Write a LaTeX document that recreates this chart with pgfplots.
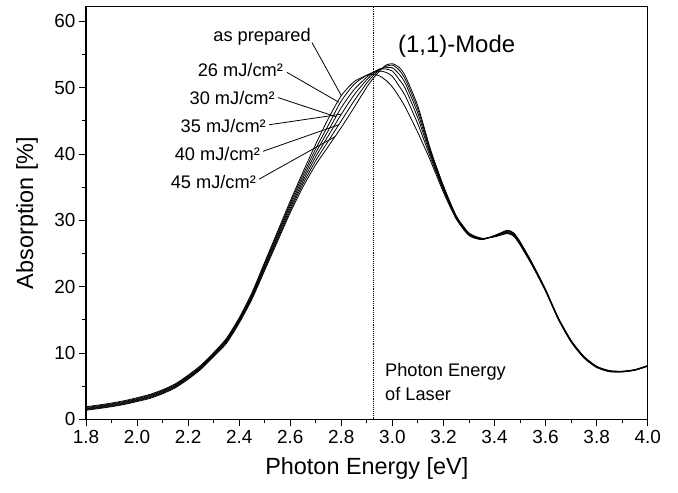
\documentclass[border=0pt]{standalone}
\usepackage{fontspec}
\setmainfont{Liberation Sans}
\usepackage{pgfplots}
\pgfplotsset{compat=1.18}
\usepackage{pgfplotstable}

\pgfplotstableread{
E      k0    k1    k2    k3    k4    k5
1.80  1.90  1.78  1.66  1.56  1.46  1.36
1.85  2.15  2.03  1.92  1.82  1.72  1.62
1.90  2.45  2.33  2.22  2.11  2.00  1.90
1.95  2.80  2.68  2.56  2.45  2.34  2.24
2.00  3.25  3.13  3.01  2.90  2.79  2.68
2.05  3.75  3.63  3.51  3.39  3.27  3.15
2.10  4.45  4.33  4.21  4.09  3.97  3.85
2.15  5.35  5.23  5.11  4.99  4.87  4.75
2.20  6.65  6.52  6.40  6.28  6.16  6.04
2.25  8.15  8.02  7.90  7.78  7.66  7.54
2.30 10.05  9.92  9.80  9.68  9.56  9.44
2.35 12.20 12.05 11.90 11.75 11.60 11.45
2.40 15.30 15.15 15.00 14.85 14.70 14.50
2.45 19.10 18.90 18.70 18.50 18.30 18.10
2.50 23.70 23.45 23.20 22.95 22.70 22.45
2.55 28.30 28.00 27.70 27.40 27.10 26.80
2.60 32.90 32.55 32.20 31.85 31.50 31.15
2.65 37.30 36.85 36.40 35.95 35.50 35.05
2.70 41.50 40.80 40.20 39.60 39.00 38.40
2.75 45.40 44.40 43.60 42.80 42.00 41.20
2.80 48.80 48.00 47.00 46.00 45.00 44.00
2.85 50.90 50.50 49.70 48.90 48.00 47.00
2.90 51.85 51.90 51.60 51.20 50.70 50.10
2.925 52.00 52.30 52.30 52.10 51.80 51.40
2.95 51.75 52.50 52.80 52.80 52.70 52.50
2.975 51.10 52.30 52.80 53.00 53.20 53.40
3.00 50.10 51.70 52.50 53.00 53.40 53.60
3.025 48.70 50.30 51.30 52.10 52.70 53.10
3.05 47.10 48.80 49.90 50.70 51.30 51.80
3.10 43.20 44.50 45.40 46.10 46.70 47.20
3.15 38.90 39.40 39.80 40.10 40.40 40.60
3.20 34.20 34.50 34.70 34.90 35.10 35.20
3.25 30.20 30.30 30.40 30.50 30.60 30.70
3.30 27.70 27.80 27.85 27.90 28.00 28.10
3.35 27.10 27.10 27.15 27.20 27.25 27.30
3.40 27.70 27.70 27.65 27.60 27.55 27.50
3.45 28.50 28.40 28.30 28.20 28.10 28.00
3.475 28.10 28.00 27.90 27.80 27.70 27.60
3.50 26.80 26.70 26.60 26.50 26.40 26.30
3.55 23.40 23.30 23.25 23.20 23.10 23.00
3.60 19.60 19.50 19.45 19.40 19.35 19.30
3.65 15.30 15.25 15.20 15.15 15.10 15.05
3.70 11.90 11.85 11.80 11.75 11.70 11.65
3.75  9.50  9.45  9.40  9.35  9.30  9.25
3.80  8.00  7.95  7.90  7.88  7.85  7.80
3.85  7.35  7.30  7.27  7.24  7.21  7.18
3.90  7.25  7.22  7.20  7.18  7.16  7.14
3.95  7.50  7.47  7.45  7.43  7.41  7.39
4.00  8.10  8.08  8.06  8.04  8.02  8.00
}\spectra

\newcommand{\tickfont}{\fontsize{19}{22}\selectfont}
\newcommand{\labfont}{\fontsize{23.5}{27}\selectfont}
\newcommand{\annfont}{\fontsize{18.3}{21}\selectfont}

\begin{document}
\begin{tikzpicture}
\begin{axis}[
  scale only axis, width=561.7bp, height=412.6bp,
  xmin=1.8, xmax=4.0, ymin=0, ymax=62.2,
  xtick={1.8,2.0,2.2,2.4,2.6,2.8,3.0,3.2,3.4,3.6,3.8,4.0},
  ytick={0,10,20,30,40,50,60},
  minor x tick num=1, minor y tick num=1,
  tick align=outside, xtick pos=bottom, ytick pos=left,
  major tick length=7bp, minor tick length=4bp,
  every tick/.style={black, line width=0.9bp},
  axis line style={line width=1.1bp},
  /pgf/number format/assume math mode=true,
  xticklabel style={/pgf/number format/.cd, fixed, fixed zerofill, precision=1},
  tick label style={font=\tickfont, text=black},
  label style={font=\labfont},
  xlabel={Photon Energy [eV]},
  ylabel={Absorption [\%]},
  xlabel style={at={(axis description cs:0.5,-0.118)}, anchor=center},
  ylabel style={at={(axis description cs:-0.105,0.5)}, anchor=center, rotate=0},
  clip=false,
]
\addplot[black, line width=0.8bp, smooth, tension=0.4] table[x=E, y=k5] {\spectra};
\addplot[black, line width=0.8bp, smooth, tension=0.4] table[x=E, y=k4] {\spectra};
\addplot[black, line width=0.8bp, smooth, tension=0.4] table[x=E, y=k3] {\spectra};
\addplot[black, line width=0.8bp, smooth, tension=0.4] table[x=E, y=k2] {\spectra};
\addplot[black, line width=0.8bp, smooth, tension=0.4] table[x=E, y=k1] {\spectra};
\addplot[black, line width=0.8bp, smooth, tension=0.4] table[x=E, y=k0] {\spectra};

\draw[black, line width=0.9bp, densely dotted] (axis cs:2.925,0) -- (axis cs:2.925,62.2);

\node[anchor=east, font=\annfont, inner sep=0pt] at (axis cs:2.681,57.6) {as prepared};
\draw[line width=0.8bp] (axis cs:2.685,56.8) -- (axis cs:2.80,48.8);
\node[anchor=east, font=\annfont, inner sep=0pt] at (axis cs:2.572,52.6) {26 mJ/cm²};
\draw[line width=0.8bp] (axis cs:2.587,52.3) -- (axis cs:2.79,47.8);
\node[anchor=east, font=\annfont, inner sep=0pt] at (axis cs:2.540,48.4) {30 mJ/cm²};
\draw[line width=0.8bp] (axis cs:2.552,48.5) -- (axis cs:2.78,45.6);
\node[anchor=east, font=\annfont, inner sep=0pt] at (axis cs:2.505,44.2) {35 mJ/cm²};
\draw[line width=0.8bp] (axis cs:2.517,44.4) -- (axis cs:2.80,46.0);
\node[anchor=east, font=\annfont, inner sep=0pt] at (axis cs:2.482,40.0) {40 mJ/cm²};
\draw[line width=0.8bp] (axis cs:2.493,40.4) -- (axis cs:2.79,44.4);
\node[anchor=east, font=\annfont, inner sep=0pt] at (axis cs:2.466,35.7) {45 mJ/cm²};
\draw[line width=0.8bp] (axis cs:2.478,36.2) -- (axis cs:2.775,42.6);

\node[anchor=base west, font=\fontsize{24}{28}\selectfont, inner sep=0pt] at (axis cs:3.022,55.36) {(1,1)-Mode};
\node[anchor=base west, font=\annfont, inner sep=0pt] at (axis cs:2.971,6.42) {Photon Energy};
\node[anchor=base west, font=\annfont, inner sep=0pt] at (axis cs:2.971,2.76) {of Laser};
\end{axis}
\pgfresetboundingbox
\useasboundingbox (-86bp,-73.7bp) rectangle (592bp,419.3bp);
\end{tikzpicture}
\end{document}
